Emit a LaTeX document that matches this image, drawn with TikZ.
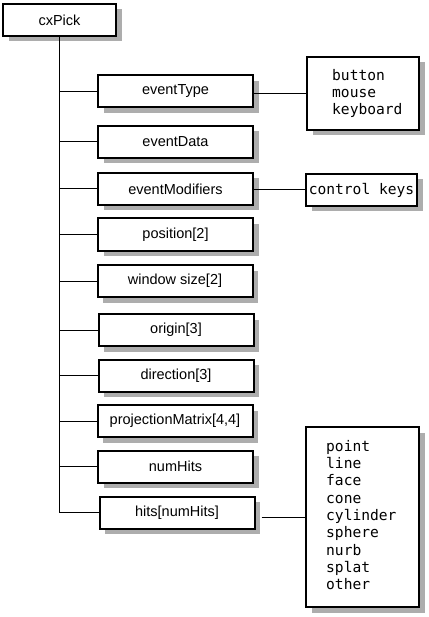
\documentclass[tikz,border=0pt]{standalone}
\usepackage{fontspec}
\setmainfont{Liberation Sans}
\newfontfamily\listfont{DejaVu Sans Mono}
\usetikzlibrary{shadows}
\tikzset{
  boxbase/.style={draw=black, line width=2pt, fill=white, rectangle, inner sep=0pt,
    drop shadow={shadow xshift=5.5pt, shadow yshift=-5.5pt, fill=black!32, opacity=1}},
  fieldbox/.style={boxbase, minimum width=155pt, minimum height=32pt,
    font=\fontsize{14.5pt}{16pt}\selectfont},
  rootbox/.style={boxbase, minimum width=113pt, minimum height=32pt,
    font=\fontsize{14.5pt}{16pt}\selectfont},
  listbox/.style={boxbase},
  listtext/.style={inner sep=0pt, align=left,
    font=\listfont\fontsize{14.6pt}{17.3pt}\selectfont},
  conn/.style={draw=black, line width=1pt}
}
\begin{document}
\begin{tikzpicture}[x=1pt,y=-1pt]
\useasboundingbox[fill=white] (0,0) rectangle (428,617);
\node[rootbox] (root) at (59.5,20) {cxPick};
\node[fieldbox] (etype) at (175.5,91.5) {eventType};
\node[fieldbox] (edata) at (175.5,142) {eventData};
\node[fieldbox] (emods) at (175.5,189) {eventModifiers};
\node[fieldbox] (pos) at (175.5,234.5) {position[2]};
\node[fieldbox] (wsize) at (175,281) {window size[2]};
\node[fieldbox] (orig) at (176,330) {origin[3]};
\node[fieldbox] (dir) at (176,375.5) {direction[3]};
\node[fieldbox] (proj) at (175,421) {projectionMatrix[4,4]};
\node[fieldbox] (nhits) at (175.5,466.5) {numHits};
\node[fieldbox] (hits) at (177,512.5) {hits[numHits]};

\node[listbox, minimum width=112pt, minimum height=73pt] (types) at (363,93.5) {};
\node[listtext, anchor=west] (typestext) at ([xshift=26pt]types.west) {button\\mouse\\keyboard};
\node[listbox, minimum width=111pt, minimum height=32pt, listtext] (ckeys) at (361.5,190) {control keys};
\node[listbox, minimum width=113pt, minimum height=180pt] (htypes) at (362.5,517) {};
\node[listtext, anchor=west] (htypestext) at ([xshift=21pt, yshift=2pt]htypes.west)
  {point\\line\\face\\cone\\cylinder\\sphere\\nurb\\splat\\other};

\draw[conn] (root.south) -- (root.south |- hits.west) -- (hits.west);
\foreach \n in {etype,edata,emods,pos,wsize,orig,dir,proj,nhits}
  \draw[conn] (root.south |- \n.west) -- (\n.west);
\draw[conn] (etype.east |- types.west) -- (types.west);
\draw[conn] (emods.east |- ckeys.west) -- (ckeys.west);
\draw[conn] ([xshift=6pt]hits.east |- htypes.west) -- (htypes.west);
\end{tikzpicture}
\end{document}
